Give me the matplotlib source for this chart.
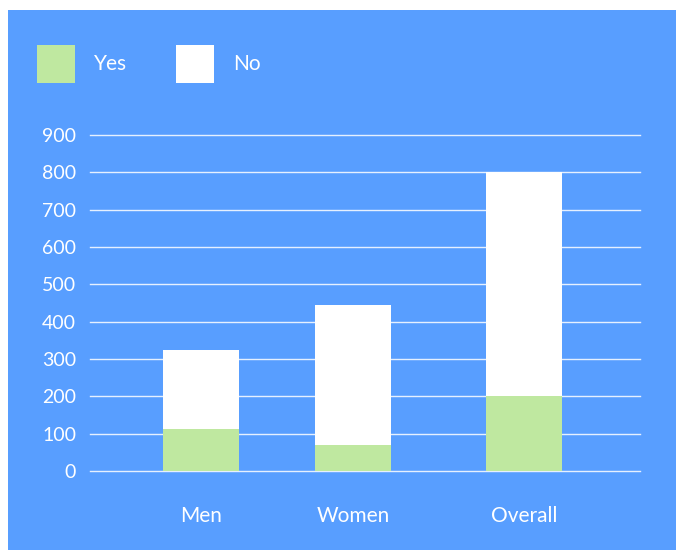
import matplotlib
matplotlib.use("Agg")
import matplotlib.pyplot as plt
from matplotlib.patches import Rectangle, Patch

categories = ["Men", "Women", "Overall"]
yes_values = [113, 70, 200]
no_values = [212, 375, 600]
y_ticks = [0, 100, 200, 300, 400, 500, 600, 700, 800, 900]
series_names = ["Yes", "No"]

# layout
x_pos = [0, 1, 2.125]
BLUE = "#589EFF"
GREEN = "#BFE8A0"
W = 676
H = 550

plt.rcParams['font.family'] = ['Lato', 'DejaVu Sans']

fig = plt.figure(figsize=(W / 100, H / 100), dpi=100, facecolor="white")
bg = Rectangle((8 / W, 0), 1 - 8 / W, 1 - 10 / H, transform=fig.transFigure,
               facecolor=BLUE, edgecolor="none", zorder=-10)
fig.patches.append(bg)

ax = fig.add_axes([90 / W, (H - 471) / H, (640 - 90) / W, (471 - 135) / H])
ax.set_zorder(5)
ax.set_facecolor("none")
ax.bar(x_pos, yes_values, width=0.5, color=GREEN, zorder=3, label=series_names[0])
ax.bar(x_pos, no_values, width=0.5, bottom=yes_values, color="white", zorder=3, label=series_names[1])

ax.set_xlim(-0.73, 2.888)
ax.set_ylim(0, 900)
ax.set_yticks(y_ticks)
ax.set_yticklabels([str(t) for t in y_ticks])
ax.set_xticks(x_pos)
ax.set_xticklabels(categories)
for t in y_ticks:
    ax.axhline(t, color="white", lw=1, alpha=0.85, zorder=1, clip_on=False)
for s in ax.spines.values():
    s.set_visible(False)
ax.tick_params(axis='y', length=0, pad=10, labelsize=14, labelcolor="white")
ax.tick_params(axis='x', length=0, pad=25, labelsize=15, labelcolor="white")

handles = [Patch(facecolor=GREEN, edgecolor="none"), Patch(facecolor="white", edgecolor="none")]
leg = fig.legend(handles, series_names, loc="upper left", bbox_to_anchor=(37 / W, 1 - 45 / H),
                 ncol=2, frameon=False, fontsize=15, handlelength=1.83, handleheight=2.43,
                 handletextpad=0.9, columnspacing=2.35, borderpad=0, borderaxespad=0)
leg.set_zorder(6)
for txt in leg.get_texts():
    txt.set_color("white")

fig.savefig("out.png", dpi=100, facecolor="white")
